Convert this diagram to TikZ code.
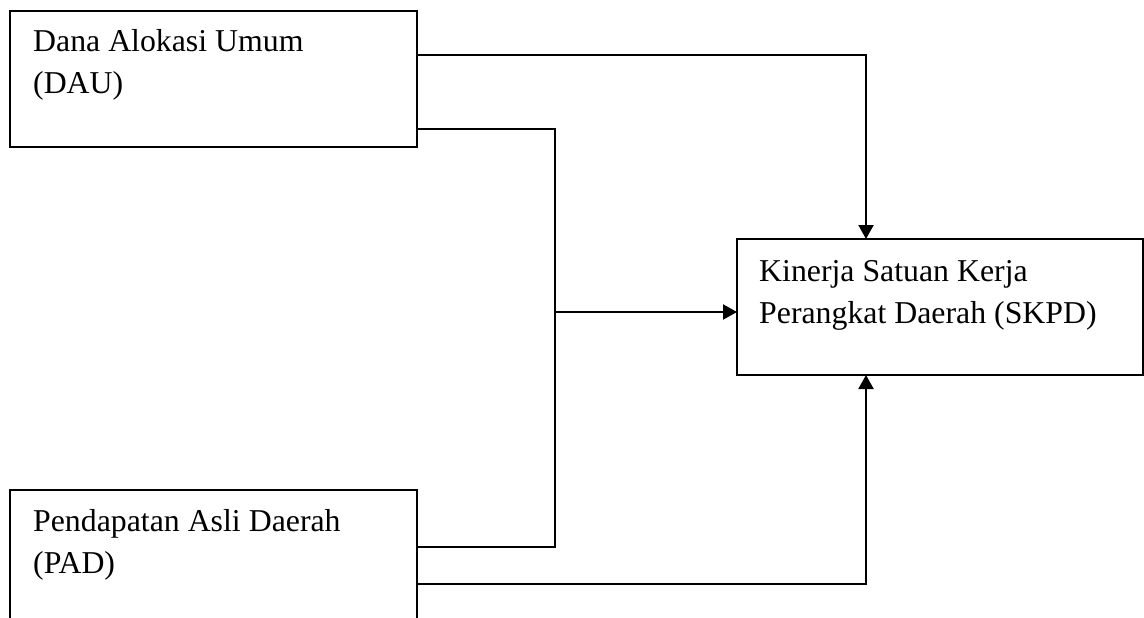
\documentclass[tikz,border=0pt]{standalone}
\usepackage{fontspec}
\setmainfont{Liberation Serif}
\usetikzlibrary{arrows.meta}
\newcommand{\mylblfont}{\fontsize{31.8}{42}\selectfont}
\newcommand{\mytightspace}{\spaceskip=8pt\relax}
\begin{document}
\begin{tikzpicture}[x=1pt,y=-1pt,
  box/.style={draw=black, line width=1.4pt, minimum width=407pt, minimum height=136pt, anchor=north west, inner sep=0pt, outer sep=0pt},
  lbl/.style={anchor=base west, inner sep=0pt, text width=400pt, align=left, font=\mylblfont, execute at begin node=\mytightspace},
  conn/.style={draw=black, line width=2.1pt},
  arr/.style={conn, -{Triangle[length=14pt,width=15pt]}}]
\useasboundingbox (0,0) rectangle (1144,618);
\clip (0,0) rectangle (1144,618);
\node[box] (dau) at (10,11) {};
\node[box, minimum height=170pt] (pad) at (10,490) {};
\node[box, minimum width=406pt] (skpd) at (737,239) {};
\node[lbl] (daut) at (33,52) {Dana Alokasi Umum\\(DAU)};
\node[lbl] (padt) at (33,531) {Pendapatan Asli Daerah\\(PAD)};
\node[lbl, text width=380pt] (skpdt) at (759,281) {Kinerja Satuan Kerja\\Perangkat Daerah (SKPD)};
\coordinate (j) at (555,312);
\draw[arr] ([yshift=-44pt]dau.north east) -| ([xshift=129pt]skpd.north west);
\draw[conn] ([yshift=-118pt]dau.north east) -| (j) |- ([yshift=-57pt]pad.north east);
\draw[arr] (j) -- (skpd.west |- j);
\draw[arr] ([yshift=-94pt]pad.north east) -| ([xshift=129pt]skpd.south west);
\end{tikzpicture}
\end{document}
